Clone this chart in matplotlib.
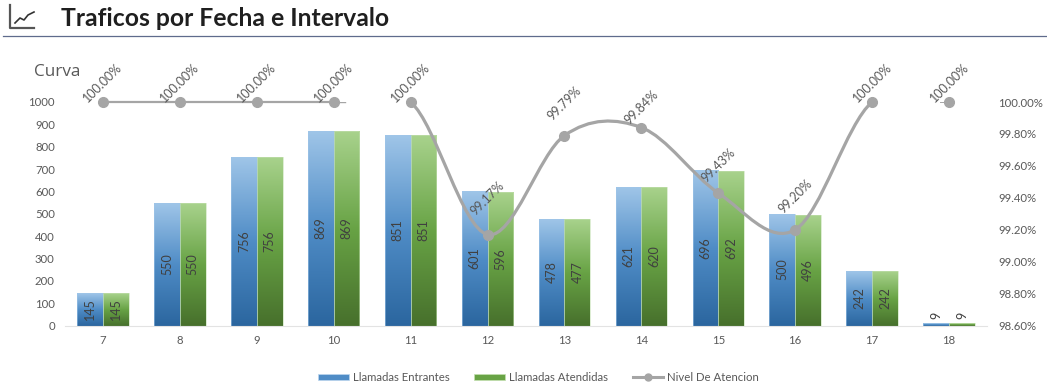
import numpy as np
import matplotlib
matplotlib.use("Agg")
import matplotlib.pyplot as plt
from matplotlib.path import Path
from matplotlib.patches import PathPatch, Patch, Rectangle
from matplotlib.lines import Line2D
from matplotlib.colors import LinearSegmentedColormap
from matplotlib.ticker import FuncFormatter

W, H = 1047, 387
hours = [7, 8, 9, 10, 11, 12, 13, 14, 15, 16, 17, 18]
entrantes = [145, 550, 756, 869, 851, 601, 478, 621, 696, 500, 242, 9]
atendidas = [145, 550, 756, 869, 851, 596, 477, 620, 692, 496, 242, 9]
nivel = [100.00, 100.00, 100.00, 100.00, 100.00, 99.17, 99.79, 99.84, 99.43, 99.20, 100.00, 100.00]
label_offsets_px = [19, 19, 19, 19, 19, 36, 32, 20, 28, 33, 19, 19]

TXT = "#595959"
GREY = "#a5a5a5"
plt.rcParams["font.family"] = ["Lato", "DejaVu Sans"]

fig = plt.figure(figsize=(W / 100, H / 100), dpi=100, facecolor="white")
L, R, T, B = 64.5, 987.5, 102, 325.5
ax = fig.add_axes([L / W, 1 - B / H, (R - L) / W, (B - T) / H])
ax.set_facecolor("none")

x = np.arange(len(hours))
bw = 0.335
blue = LinearSegmentedColormap.from_list("b", ["#2b669f", "#4f8cc6", "#9fc5e8"])
green = LinearSegmentedColormap.from_list("g", ["#47702c", "#68a345", "#a8d28c"])
grad = np.linspace(0, 1, 128).reshape(-1, 1)


def gbar(cx, h, cmap, edge):
    r = Rectangle((cx, 0), bw, h, transform=ax.transData, fc="none", ec="none")
    ax.add_patch(r)
    im = ax.imshow(grad, origin="lower", cmap=cmap, aspect="auto",
                   extent=(cx, cx + bw, 0, h), zorder=2, vmin=0, vmax=1)
    im.set_clip_path(r)
    ax.add_patch(Rectangle((cx, 0), bw, h, fc="none", ec=edge, lw=0.4, zorder=2.1))


for i in x:
    gbar(i - bw, entrantes[i], blue, "#9fc5e8")
    gbar(i, atendidas[i], green, "#c3e0b0")
ax.set_xlim(-0.5, 11.5)
ax.set_ylim(0, 1000)

for i in x:
    for cx, v in ((i - bw / 2, entrantes[i]), (i + bw / 2, atendidas[i])):
        y = v / 2 if v > 50 else v + 35
        ax.text(cx, y, str(v), rotation=90, ha="center", va="center",
                fontsize=9, color="#404040", zorder=4)

ax.set_xticks(x, [str(h) for h in hours])
ax.set_yticks(range(0, 1001, 100))
ax.tick_params(length=0, labelsize=8.2, labelcolor=TXT)
ax.tick_params(axis="x", pad=7)
ax.tick_params(axis="y", pad=7)
for s in ax.spines.values():
    s.set_visible(False)
ax.spines["bottom"].set_visible(True)
ax.spines["bottom"].set_color("#e3e3e3")

ax2 = ax.twinx()
ax2.set_ylim(98.6, 100.0)
ax2.set_yticks(np.arange(98.6, 100.01, 0.2))
ax2.yaxis.set_major_formatter(FuncFormatter(lambda v, _: f"{v:.2f}%"))
ax2.tick_params(length=0, labelsize=8.2, labelcolor=TXT, pad=7.5)
for s in ax2.spines.values():
    s.set_visible(False)

# Excel-style smoothing: Bezier handles derived from the neighbouring values
yy = np.array(nivel)
prev_ = np.r_[yy[0], yy[:-1]]
next_ = np.r_[yy[1:], yy[-1]]
slope = (next_ - prev_) / 2


def smooth(a, b):
    v, c = [(x[a], yy[a])], [Path.MOVETO]
    for i in range(a, b):
        v += [(x[i] + 1 / 3, yy[i] + slope[i] / 3),
              (x[i + 1] - 1 / 3, yy[i + 1] - slope[i + 1] / 3),
              (x[i + 1], yy[i + 1])]
        c += [Path.CURVE4] * 3
    return Path(v, c)


ax2.add_patch(PathPatch(smooth(0, 3), fc="none", ec=GREY, lw=1.6, zorder=5, clip_on=False))
ax2.add_patch(PathPatch(smooth(4, 10), fc="none", ec=GREY, lw=2.3, zorder=5, clip_on=False, capstyle="round"))
ax2.plot([x[3], x[3] + 0.15], [yy[3], yy[3]], color=GREY, lw=1.0, zorder=5)
ax2.plot([x[11] - 0.12, x[11]], [yy[11], yy[11]], color=GREY, lw=0.7, zorder=5)
ax2.plot(x, yy, ls="none", marker="o", ms=7, color=GREY, zorder=6, clip_on=False)

for i, (v, off) in enumerate(zip(nivel, label_offsets_px)):
    ax2.annotate(f"{v:.2f}%", (x[i], v), xytext=(0, off * 0.72), textcoords="offset points",
                 rotation=45, ha="center", va="center", fontsize=9, color="#595959",
                 zorder=7, annotation_clip=False)

# Header
fig.text(61 / W, 1 - 18 / H, "Traficos por Fecha e Intervalo", fontsize=17.8, fontweight="bold",
         color="#1f1f1f", va="center", ha="left", family=["Lato", "DejaVu Sans"])
fig.add_artist(Line2D([3 / W, 1047 / W], [1 - 35.5 / H] * 2, color="#5f6b8c", lw=0.9))
fig.add_artist(Line2D([10 / W, 10 / W, 34 / W], [1 - 5 / H, 1 - 28 / H, 1 - 28 / H], color="#555555", lw=1.6))
fig.add_artist(Line2D(np.array([15, 20, 24, 28, 34]) / W, 1 - np.array([23, 18, 20, 15, 12]) / H,
                      color="#333333", lw=1.2))
fig.text(34 / W, 1 - 72 / H, "Curva", fontsize=12.3, color=TXT, va="center", ha="left", family="Open Sans")

handles = [Patch(fc="#4f8cc6", ec="#bcd6ee", lw=0.5), Patch(fc="#68a345", ec="#c3e0b0", lw=0.5),
           Line2D([], [], color=GREY, lw=2.2, marker="o", ms=5)]
fig.legend(handles, ["Llamadas Entrantes", "Llamadas Atendidas", "Nivel De Atencion"],
           ncol=3, loc="center", bbox_to_anchor=(538.5 / W, 1 - 377.5 / H), frameon=False, fontsize=8.2,
           labelcolor=TXT, handlelength=2.7, handleheight=0.45, handletextpad=0.3, columnspacing=2.2)

fig.savefig("out.png", dpi=100)
